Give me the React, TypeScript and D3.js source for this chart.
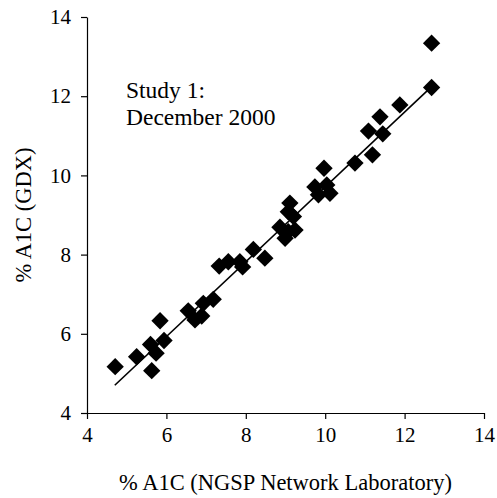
import React, { useRef, useEffect } from 'react';
import * as d3 from 'd3';

// NGSP network lab value vs GDX value (% A1C)
const ngsp = [
  4.71, 5.25, 5.63, 5.6, 5.74, 5.84, 5.94, 6.55, 6.72, 6.89, 6.93, 7.18, 7.33,
  7.56, 7.85, 7.92, 8.19, 8.48, 8.86, 8.99, 9.07, 9.24, 9.07, 9.2, 9.11, 9.74,
  9.83, 9.97, 10.04, 10.12, 10.75, 11.09, 11.19, 11.38, 11.45, 11.88, 12.68,
  12.68,
];
const gdx = [
  5.17, 5.42, 5.07, 5.73, 5.51, 6.33, 5.83, 6.58, 6.35, 6.45, 6.77, 6.87, 7.71,
  7.82, 7.82, 7.69, 8.13, 7.91, 8.69, 8.41, 8.58, 8.62, 9.08, 8.96, 9.3, 9.71,
  9.51, 10.18, 9.76, 9.55, 10.31, 11.12, 10.52, 11.48, 11.05, 11.78, 12.22,
  13.34,
];
// regression line ends
const fitX = [4.7, 12.68];
const fitY = [4.7, 12.24];

const xTicks = [4, 6, 8, 10, 12, 14];
const yTicks = [4, 6, 8, 10, 12, 14];
const notes = ['Study 1:', 'December 2000'];

const W = 497;
const H = 498;
const FONT = '"Liberation Serif", "Times New Roman", serif';

export default function App() {
  const ref = useRef<SVGSVGElement>(null);

  useEffect(() => {
    const svg = d3.select(ref.current);
    svg.selectAll('*').remove();

    const x = d3.scaleLinear().domain([4, 14]).range([87, 484]);
    const y = d3.scaleLinear().domain([4, 14]).range([413, 17]);

    const g = svg.append('g').style('font-family', FONT).style('font-size', '22.5px');

    // axes
    const xAxis = g
      .append('g')
      .attr('transform', `translate(0,${y(4)})`)
      .call(d3.axisBottom(x).tickValues(xTicks).tickSize(6).tickPadding(8).tickSizeOuter(0));
    const yAxis = g
      .append('g')
      .attr('transform', `translate(${x(4)},0)`)
      .call(d3.axisLeft(y).tickValues(yTicks).tickSize(6).tickPadding(10).tickSizeOuter(0));

    [xAxis, yAxis].forEach((a) => {
      a.selectAll('text')
        .style('font-family', FONT)
        .style('font-size', '21px')
        .attr('fill', '#000');
      a.selectAll('line, path').attr('stroke', '#000').attr('stroke-width', 1.2);
    });

    // fit line
    const line = d3
      .line<number>()
      .x((d) => x(d))
      .y((d, i) => y(fitY[i]));
    g.append('path')
      .attr('d', line(fitX))
      .attr('fill', 'none')
      .attr('stroke', '#000')
      .attr('stroke-width', 1.6);

    // diamonds
    const sym = d3.symbol().type(d3.symbolSquare).size(150);
    g.selectAll('.pt')
      .data(ngsp)
      .enter()
      .append('path')
      .attr('class', 'pt')
      .attr('d', sym() as string)
      .attr('transform', (d, i) => `translate(${x(d)},${y(gdx[i])}) rotate(45)`)
      .attr('fill', '#000');

    // annotation
    g.selectAll('.note')
      .data(notes)
      .enter()
      .append('text')
      .attr('class', 'note')
      .attr('x', 126)
      .attr('y', (d, i) => 98 + i * 27)
      .style('font-size', '23.5px')
      .text((d) => d);

    // axis titles
    g.append('text')
      .attr('x', (x(4) + x(14)) / 2)
      .attr('y', 490)
      .attr('text-anchor', 'middle')
      .text('% A1C (NGSP Network Laboratory)');

    g.append('text')
      .attr('transform', `translate(31,${(y(4) + y(14)) / 2}) rotate(-90)`)
      .attr('text-anchor', 'middle')
      .text('% A1C (GDX)');
  }, []);

  return (
    <svg
      ref={ref}
      width={W}
      height={H}
      style={{ position: 'absolute', left: 0, top: 0, background: '#fff' }}
    />
  );
}
